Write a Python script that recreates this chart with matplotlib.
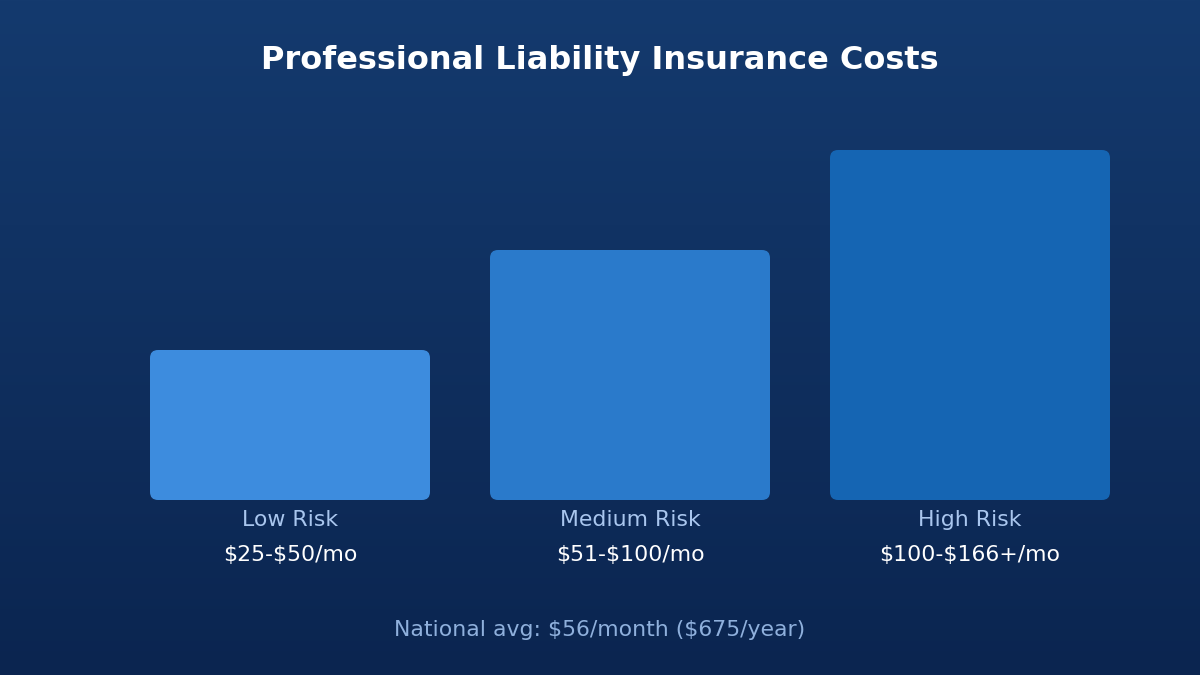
import matplotlib.pyplot as plt
import numpy as np
from matplotlib.patches import FancyBboxPatch

plt.rcParams['font.family'] = ['DejaVu Sans']
plt.rcParams['text.parse_math'] = False

# chart data
categories = ["Low Risk", "Medium Risk", "High Risk"]
price_labels = ["$25-$50/mo", "$51-$100/mo", "$100-$166+/mo"]
bar_values = [3, 5, 7]  # relative cost level
bar_colors = ["#3d8cde", "#2a7acb", "#1565b3"]
title = "Professional Liability Insurance Costs"
footnote = "National avg: $56/month ($675/year)"

W, H = 1200, 675
fig = plt.figure(figsize=(W / 100, H / 100), dpi=100)

# gradient background
bg = fig.add_axes([0, 0, 1, 1], zorder=0)
grad = np.linspace(0, 1, 256).reshape(-1, 1)
top = np.array([0x14, 0x3a, 0x6e]) / 255
bot = np.array([0x0b, 0x25, 0x50]) / 255
img = top + (bot - top) * grad[..., None]
bg.imshow(img, aspect="auto", extent=[0, 1, 0, 1])
bg.set_axis_off()

# bar axes: slots of 340px from x=120 to 1140, baseline at y=500, top at 150
ax = fig.add_axes([120 / W, 175 / H, 1020 / W, 350 / H], zorder=1)
ax.set_xlim(-0.5, 2.5)
ax.set_ylim(0, 7)
ax.patch.set_alpha(0)
ax.set_axis_off()

width = 280 / 340
rx = 8 / 340
aspect = 340 / 50
bars = ax.bar(range(len(bar_values)), bar_values, width=width, color="none")
for b, c in zip(bars, bar_colors):
    p = FancyBboxPatch((b.get_x(), b.get_y()), b.get_width(), b.get_height(),
                       boxstyle=f"round,pad=0,rounding_size={rx}",
                       mutation_aspect=aspect, facecolor=c, edgecolor="none")
    ax.add_patch(p)
    b.remove()

for i, (cat, price) in enumerate(zip(categories, price_labels)):
    xf = (120 + 340 * i + 170) / W
    fig.text(xf, 1 - 520 / H, cat, ha="center", va="center",
             color="#a9c6ee", fontsize=15.8)
    fig.text(xf, 1 - 555 / H, price, ha="center", va="center",
             color="white", fontsize=15.8)

fig.text(0.5, 1 - 60 / H, title, ha="center", va="center",
         color="white", fontsize=23, fontweight="bold")
fig.text(0.5, 1 - 630 / H, footnote, ha="center", va="center",
         color="#8fb0dc", fontsize=15.8)

fig.savefig("out.png", dpi=100)
